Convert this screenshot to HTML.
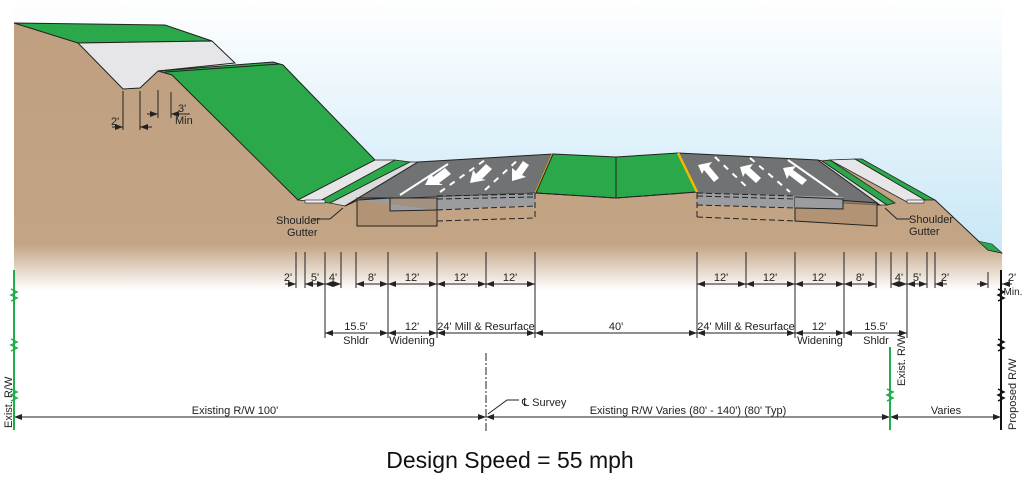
<!DOCTYPE html>
<html><head><meta charset="utf-8"><style>
html,body{margin:0;padding:0;background:#fff;width:1024px;height:480px;overflow:hidden}
svg{display:block}
text{font-family:"Liberation Sans Narrow","Liberation Sans",Arial,sans-serif;fill:#222}
</style></head><body>
<svg width="1024" height="480" viewBox="0 0 1024 480" xmlns="http://www.w3.org/2000/svg">
<defs>
<linearGradient id="sky" x1="0" y1="0" x2="0" y2="1">
<stop offset="0" stop-color="#ffffff"/><stop offset="1" stop-color="#c6e6f6"/>
</linearGradient>
<linearGradient id="earth" x1="0" y1="0" x2="0" y2="1">
<stop offset="0" stop-color="#bf9f7f"/><stop offset="0.83" stop-color="#c3a585"/><stop offset="1" stop-color="#ffffff"/>
</linearGradient>
<marker id="ar" markerWidth="8" markerHeight="6" refX="8" refY="3" orient="auto-start-reverse" markerUnits="userSpaceOnUse"><path d="M0,0 L8,3 L0,6 z" fill="#222"/></marker>
</defs>
<rect x="14" y="0" width="988" height="260" fill="url(#sky)"/>
<path d="M14,23 L165,25 L212,41 L235,63 L158,71 L140,88 L123,89 L158,71 L273,62 L283,65 L375,160 L418,162 L553,154 L616,157 L678,153 L818,160 L855,159 L935,200 L988,250 L1002,253 L1002,290 L14,290 Z" fill="url(#earth)"/>
<path d="M14,23 L165,25 L212,41 L78,43 Z" fill="#2aa84a" stroke="#222" stroke-width="1"/>
<path d="M78,43 L212,41 L235,63 L158,71 L140,88 L123,89 Z" fill="#e6e6e8" stroke="#222" stroke-width="1"/>
<path d="M158,71 L273,62 L283,65 L375,160 L298,200 L172,75 Z" fill="#2aa84a" stroke="#222" stroke-width="1"/>
<line x1="165" y1="72" x2="280" y2="64" stroke="#222" stroke-width="1"/>
<path d="M298,200 L375,160 L395,160 L318,202 Z" fill="#e6e6e8" stroke="#222" stroke-width="0.8"/>
<path d="M318,202 L395,160 L410,162 L330,203 Z" fill="#2aa84a" stroke="#222" stroke-width="0.8"/>
<path d="M330,203 L410,162 L418,162 L345,206 Z" fill="#dcdcdc" stroke="#222" stroke-width="0.8"/>
<rect x="305" y="200" width="20" height="3" fill="#eee" stroke="#222" stroke-width="0.6"/>
<path d="M418,162 L553,154 L536,193 L358,200 L345,206 Z" fill="#707274" stroke="#222" stroke-width="1"/>
<path d="M358,200 L390,198 L390,211 L437,210 L535,205 L535,193 Z" fill="#9a9ca0"/>
<line x1="553" y1="154" x2="536" y2="193" stroke="#f5b800" stroke-width="2.5"/>
<rect x="357" y="198" width="80" height="28" fill="#a9896b" fill-opacity="0.6" stroke="#222" stroke-width="1"/>
<path d="M358,200 L390,198 L390,211 L437,210" fill="#9a9ca0" stroke="#222" stroke-width="1"/>
<g stroke="#222" stroke-width="1" stroke-dasharray="6,3" fill="none">
<line x1="437" y1="196" x2="535" y2="194"/><line x1="437" y1="199" x2="535" y2="197"/>
<line x1="437" y1="210" x2="535" y2="206"/><line x1="437" y1="221" x2="535" y2="218"/>
<line x1="535" y1="193" x2="535" y2="218"/>
</g>
<g stroke="#fff" stroke-width="2">
<line x1="400" y1="195" x2="448" y2="164"/>
<line x1="440" y1="192" x2="485" y2="160" stroke-dasharray="6,6"/>
<line x1="485" y1="190" x2="520" y2="158" stroke-dasharray="6,6"/>
</g>
<g fill="#fff">
<path d="M425,185 l6,-12 l2,4 l12,-9 l6,6 l-12,9 l4,2 z"/>
<path d="M470,183 l3,-13 l3,4 l10,-10 l6,5 l-10,10 l4,1 z"/>
<path d="M512,181 l0,-13 l4,3 l7,-10 l6,4 l-7,10 l4,2 z"/>
</g>
<path d="M553,154 L616,157 L678,153 L697,192 L616,198 L536,193 Z" fill="#2aa84a" stroke="#222" stroke-width="1"/>
<line x1="616" y1="157" x2="616" y2="198" stroke="#222" stroke-width="1"/>
<path d="M536,193 L616,198 L697,192" fill="none" stroke="#222" stroke-dasharray="6,3"/>
<path d="M678,153 L818,160 L880,205 L843,203 L697,193 Z" fill="#707274" stroke="#222" stroke-width="1"/>
<path d="M697,193 L843,197 L843,209 L697,205 Z" fill="#9a9ca0"/>
<line x1="678" y1="153" x2="697" y2="192" stroke="#f5b800" stroke-width="2.5"/>
<path d="M795,197 L877,203 L877,226 L795,221 Z" fill="#a9896b" fill-opacity="0.6" stroke="#222" stroke-width="1"/>
<path d="M795,197 L843,199 L843,209 L795,208" fill="#9a9ca0" stroke="#222"/>
<g stroke="#222" stroke-width="1" stroke-dasharray="6,3" fill="none">
<line x1="697" y1="193" x2="795" y2="196"/><line x1="697" y1="196" x2="795" y2="199"/>
<line x1="697" y1="205" x2="795" y2="208"/><line x1="697" y1="217" x2="795" y2="221"/>
<line x1="697" y1="193" x2="697" y2="217"/>
</g>
<g stroke="#fff" stroke-width="2">
<line x1="788" y1="160" x2="838" y2="195"/>
<line x1="750" y1="158" x2="790" y2="192" stroke-dasharray="6,6"/>
<line x1="715" y1="157" x2="750" y2="190" stroke-dasharray="6,6"/>
</g>
<g fill="#fff">
<path d="M698,165 l14,-3 l-3,4 l10,12 l-5,4 l-10,-12 l-2,4 z"/>
<path d="M740,167 l13,-3 l-3,4 l11,10 l-5,5 l-11,-10 l-2,4 z"/>
<path d="M783,168 l13,-2 l-3,4 l14,10 l-5,5 l-13,-10 l-2,4 z"/>
</g>
<path d="M818,160 L822,161 L887,205 L880,205 Z" fill="#dcdcdc" stroke="#222" stroke-width="0.8"/>
<path d="M822,161 L830,160 L895,203 L887,205 Z" fill="#2aa84a" stroke="#222" stroke-width="0.8"/>
<path d="M830,160 L855,159 L925,200 L907,202 Z" fill="#e6e6e8" stroke="#222" stroke-width="0.8"/>
<path d="M855,159 L862,159 L935,200 L925,200 Z" fill="#2aa84a" stroke="#222" stroke-width="0.8"/>
<rect x="907" y="200" width="17" height="3" fill="#eee" stroke="#222" stroke-width="0.6"/>
<path d="M935,200 L988,250 L1002,253" fill="none" stroke="#222"/>
<path d="M978,241 L988,250 L1002,253 L992,244 Z" fill="#2aa84a" stroke="#222" stroke-width="0.6"/>
<path d="M313,219 L330,219 L343,208" fill="none" stroke="#222"/>
<text x="276" y="224" font-size="11">Shoulder</text><text x="287" y="236" font-size="11">Gutter</text>
<path d="M910,219 L897,219 L885,208" fill="none" stroke="#222"/>
<text x="909" y="223" font-size="11">Shoulder</text><text x="909" y="235" font-size="11">Gutter</text>
<g stroke="#222" stroke-width="1" fill="none">
<line x1="123" y1="91" x2="123" y2="130"/><line x1="140" y1="91" x2="140" y2="130"/>
<line x1="158" y1="90" x2="158" y2="118"/><line x1="171" y1="92" x2="171" y2="118"/>
<line x1="112" y1="127" x2="123" y2="127" marker-end="url(#ar)"/>
<line x1="152" y1="127" x2="140" y2="127" marker-end="url(#ar)"/>
<line x1="147" y1="114" x2="158" y2="114" marker-end="url(#ar)"/>
<line x1="190" y1="114" x2="171" y2="114" marker-end="url(#ar)"/>
</g>
<text x="111" y="125" font-size="11">2'</text>
<text x="178" y="112" font-size="11">3'</text><text x="175" y="124" font-size="11">Min</text>
<g stroke="#222" stroke-width="1">
<line x1="296" y1="252" x2="296" y2="288"/><line x1="305" y1="252" x2="305" y2="288"/>
<line x1="325" y1="252" x2="325" y2="338"/><line x1="341" y1="252" x2="341" y2="288"/>
<line x1="356" y1="252" x2="356" y2="288"/><line x1="388" y1="252" x2="388" y2="338"/>
<line x1="437" y1="252" x2="437" y2="338"/><line x1="486" y1="252" x2="486" y2="288"/>
<line x1="535" y1="252" x2="535" y2="338"/>
<line x1="697" y1="252" x2="697" y2="338"/><line x1="746" y1="252" x2="746" y2="288"/>
<line x1="795" y1="252" x2="795" y2="338"/><line x1="844" y1="252" x2="844" y2="338"/>
<line x1="876" y1="252" x2="876" y2="288"/><line x1="891" y1="252" x2="891" y2="288"/>
<line x1="907" y1="252" x2="907" y2="338"/><line x1="927" y1="252" x2="927" y2="288"/>
<line x1="935" y1="252" x2="935" y2="288"/><line x1="988" y1="272" x2="988" y2="288"/>
</g>
<g stroke="#222" stroke-width="1" marker-start="url(#ar)" marker-end="url(#ar)">
<line x1="305" y1="284" x2="325" y2="284"/><line x1="325" y1="284" x2="341" y2="284"/>
<line x1="356" y1="284" x2="388" y2="284"/><line x1="388" y1="284" x2="437" y2="284"/>
<line x1="437" y1="284" x2="486" y2="284"/><line x1="486" y1="284" x2="535" y2="284"/>
<line x1="697" y1="284" x2="746" y2="284"/><line x1="746" y1="284" x2="795" y2="284"/>
<line x1="795" y1="284" x2="844" y2="284"/><line x1="844" y1="284" x2="876" y2="284"/>
<line x1="891" y1="284" x2="907" y2="284"/><line x1="907" y1="284" x2="927" y2="284"/>
<line x1="325" y1="333" x2="388" y2="333"/><line x1="388" y1="333" x2="437" y2="333"/>
<line x1="437" y1="333" x2="535" y2="333"/><line x1="535" y1="333" x2="697" y2="333"/>
<line x1="697" y1="333" x2="795" y2="333"/><line x1="795" y1="333" x2="844" y2="333"/>
<line x1="844" y1="333" x2="907" y2="333"/>
<line x1="14" y1="417" x2="486" y2="417"/><line x1="486" y1="417" x2="890" y2="417"/>
<line x1="890" y1="417" x2="1001" y2="417"/>
</g>
<g stroke="#222" stroke-width="1">
<line x1="285" y1="284" x2="296" y2="284" marker-end="url(#ar)"/>
<line x1="947" y1="284" x2="935" y2="284" marker-end="url(#ar)"/>
<line x1="977" y1="284" x2="988" y2="284" marker-end="url(#ar)"/>
<line x1="1012" y1="284" x2="1002" y2="284" marker-end="url(#ar)"/>
</g>
<g font-size="11" text-anchor="middle">
<text x="288" y="281">2'</text><text x="315" y="281">5'</text><text x="333" y="281">4'</text>
<text x="372" y="281">8'</text><text x="412" y="281">12'</text><text x="461" y="281">12'</text><text x="510" y="281">12'</text>
<text x="721" y="281">12'</text><text x="770" y="281">12'</text><text x="819" y="281">12'</text><text x="860" y="281">8'</text>
<text x="899" y="281">4'</text><text x="917" y="281">5'</text><text x="945" y="281">2'</text>
<text x="1012" y="281">2'</text><text x="1013" y="295" font-size="10">Min.</text>
<text x="356" y="330">15.5'</text><text x="356" y="344">Shldr</text>
<text x="412" y="330">12'</text><text x="412" y="344">Widening</text>
<text x="486" y="330">24' Mill &amp; Resurface</text>
<text x="616" y="330">40'</text>
<text x="746" y="330">24' Mill &amp; Resurface</text>
<text x="819" y="330">12'</text><text x="820" y="344">Widening</text>
<text x="876" y="330">15.5'</text><text x="876" y="344">Shldr</text>
<text x="235" y="414">Existing R/W 100'</text>
<text x="688" y="414">Existing R/W Varies (80' - 140') (80' Typ)</text>
<text x="946" y="414">Varies</text>
</g>
<text x="522" y="406" font-size="11">℄ Survey</text>
<path d="M519,400 L507,400 L488,414" fill="none" stroke="#222"/>
<line x1="486" y1="353" x2="486" y2="432" stroke="#222" stroke-dasharray="8,2,2,2"/>
<line x1="14" y1="270" x2="14" y2="430" stroke="#1fae4a" stroke-width="2"/>
<line x1="890" y1="347" x2="890" y2="430" stroke="#1fae4a" stroke-width="2"/>
<line x1="1001" y1="270" x2="1001" y2="430" stroke="#111" stroke-width="2"/>
<g fill="none" stroke-width="1.5">
<path d="M11,289 l6,3 l-6,3 l6,3 l-6,3" stroke="#1fae4a"/>
<path d="M11,339 l6,3 l-6,3 l6,3 l-6,3" stroke="#1fae4a"/>
<path d="M11,389 l6,3 l-6,3 l6,3 l-6,3" stroke="#1fae4a"/>
<path d="M887,389 l6,3 l-6,3 l6,3 l-6,3" stroke="#1fae4a"/>
<path d="M998,289 l6,3 l-6,3 l6,3 l-6,3" stroke="#111"/>
<path d="M998,339 l6,3 l-6,3 l6,3 l-6,3" stroke="#111"/>
<path d="M998,389 l6,3 l-6,3 l6,3 l-6,3" stroke="#111"/>
</g>
<text transform="translate(12,428) rotate(-90)" font-size="11">Exist. R/W</text>
<text transform="translate(905,386) rotate(-90)" font-size="11">Exist. R/W</text>
<text transform="translate(1016,430) rotate(-90)" font-size="11">Proposed R/W</text>
<text x="510" y="468" font-size="23" text-anchor="middle" style="fill:#111;font-family:'Liberation Sans',Arial,sans-serif">Design Speed = 55 mph</text>
</svg>
</body></html>
